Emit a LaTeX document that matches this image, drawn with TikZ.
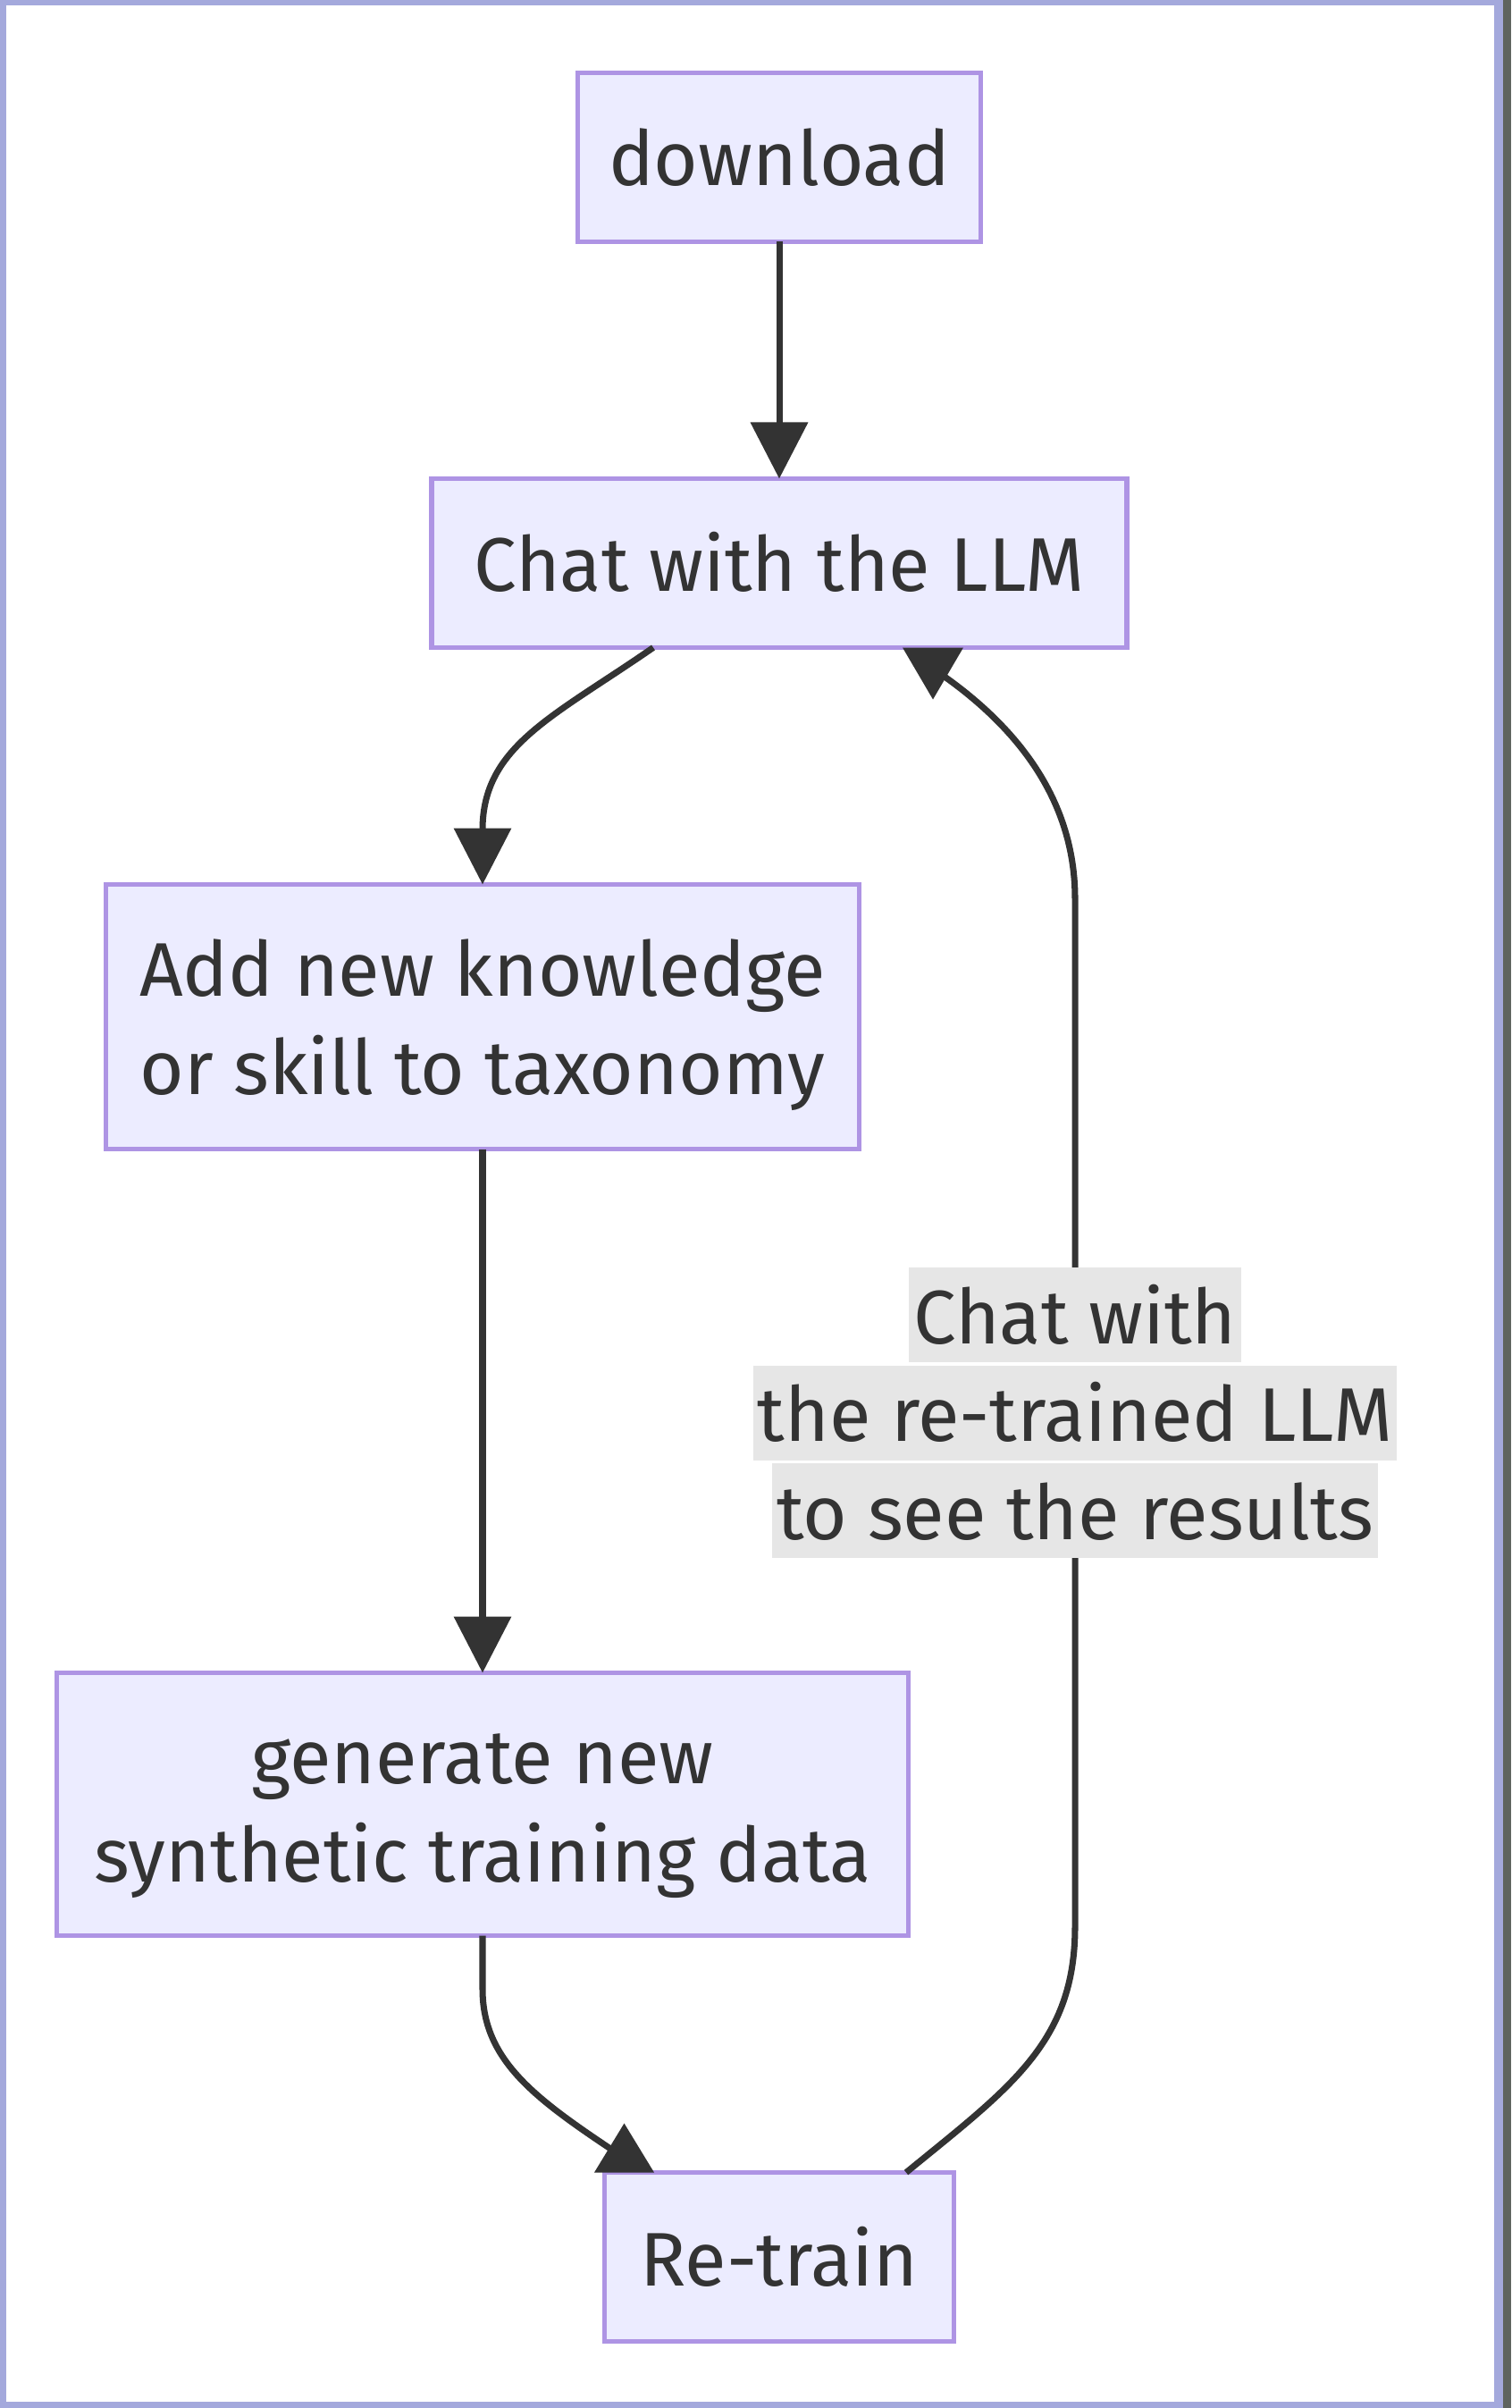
\documentclass[tikz,border=0pt]{standalone}
\usepackage{fontspec}
\setmainfont{Fira Sans}
\usetikzlibrary{arrows.meta,positioning,calc}

\definecolor{boxfill}{HTML}{ECECFF}
\definecolor{boxline}{HTML}{9370DB}
\definecolor{linecol}{HTML}{333333}
\definecolor{lblbg}{HTML}{E6E6E6}
\definecolor{framecol}{HTML}{A4A9DC}
\definecolor{stripcol}{HTML}{5F645F}

\setlength{\fboxsep}{0pt}
% fixed line box, so every text line sits the same way
\newcommand{\rowstrut}{\rule[-0.21cm]{0pt}{1.06cm}}
% one grey band per line of the edge label
\newcommand{\lblrow}[1]{\colorbox{lblbg}{\rowstrut\hspace{0.05cm}#1\hspace{0.05cm}}}

\tikzset{box/.style={ % Sets the properties for each step
            rectangle,
            draw=boxline!75!white,
            line width=1.5pt,
            fill=boxfill,
            inner sep=0pt,
            outer sep=0pt,
            align=center},
        link/.style={ % Plain connector, no tip
            draw,
            line width=2pt,
            color=linecol},
        every edge/.style={ % Sets the properties for each transition
            link,
            ->,>={Triangle[length=0.63cm,width=0.63cm]}},
        lbl/.style={ % Label on the loop back
            inner sep=0pt,
            align=center}
        }

\begin{document}
\begin{tikzpicture}[font=\fontsize{24.2}{30.1}\selectfont, text=linecol]
    \useasboundingbox (0,0) rectangle (16.91,-26.94);
    % frame
    \fill[framecol] (0,0) rectangle (16.82,-26.94);
    \fill[white] (0.07,-0.06) rectangle (16.72,-26.87);
    \fill[stripcol] (16.82,0) rectangle (16.91,-26.94);

    \node[box, minimum width=4.51cm, minimum height=1.89cm] (download) at (8.72,-1.76) {\rowstrut download};
    \node[box, minimum width=7.78cm, minimum height=1.89cm] (chat) [below=2.65cm of download] {\rowstrut Chat with the LLM};
    \node[box, minimum width=8.43cm, minimum height=2.96cm] (addskill) [below=2.65cm of chat, xshift=-3.32cm] {\rowstrut Add new knowledge\\\rowstrut or skill to taxonomy};
    \node[box, minimum width=9.53cm, minimum height=2.94cm] (gendata) [below=5.86cm of addskill] {\rowstrut generate new\\\rowstrut synthetic training data};
    \node[box, minimum width=3.91cm, minimum height=1.89cm] (retrain) [below=2.65cm of gendata, xshift=3.32cm] {\rowstrut Re-train};

    \draw
        (download) edge (chat)
        (addskill) edge (gendata);
    \draw[link, ->, >={Triangle[length=0.63cm,width=0.63cm]}]
        ([xshift=-1.41cm]chat.south) .. controls +(-1.11,-0.77) and +(0,1.55) .. (addskill.north);
    \draw[link]
        (gendata.south) -- ++(0,-0.6) .. controls +(0,-0.8) and +(-0.9,0.6) .. ([xshift=-1.82cm, yshift=0.22cm]retrain.north);
    \draw[link]
        ([xshift=1.42cm]retrain.north) .. controls +(1.16,0.95) and +(0,-1.3) .. ++(1.89,2.75)
            -- node[lbl, fill=white] (loopnote) {\lblrow{Chat with}\\\lblrow{the re-trained LLM}\\\lblrow{to see the results}} ++(0,11.5)
            .. controls +(0,1.0) and +(0.98,-0.68) .. ([xshift=1.80cm, yshift=-0.29cm]chat.south);

    % tips drawn flipped, base on the box
    \fill[linecol] ([xshift=1.38cm]chat.south) -- ++(0.68,0) -- ++(-0.34,-0.58) -- cycle;
    \fill[linecol] ([xshift=-2.07cm]retrain.north) -- ++(0.67,0) -- ++(-0.335,0.55) -- cycle;
\end{tikzpicture}
\end{document}
